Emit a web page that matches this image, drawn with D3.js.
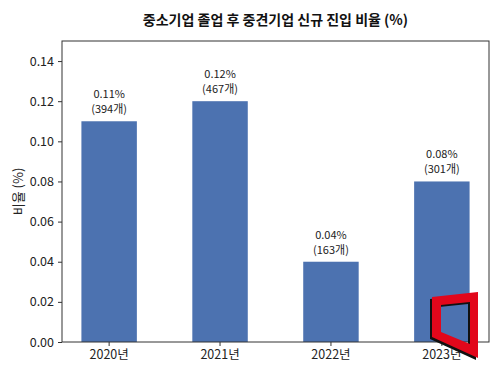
<!DOCTYPE html>
<html>
<head>
<meta charset="utf-8">
<script src="https://cdn.jsdelivr.net/npm/d3@7"></script>
<style>
  body { margin: 0; background: #fff; }
  text { font-family: "Noto Sans CJK KR", "Noto Sans", sans-serif; }
</style>
</head>
<body>
<svg id="chart" width="500" height="375"></svg>
<script>
// data
const years = ["2020년", "2021년", "2022년", "2023년"];
const rates = [0.11, 0.12, 0.04, 0.08];
const counts = [394, 467, 163, 301];
const yTicks = [0, 0.02, 0.04, 0.06, 0.08, 0.10, 0.12, 0.14];

var svg = d3.select("#chart"),
   margin = {top: 41, right: 11, bottom: 33, left: 62},
   width = +svg.attr("width") - margin.left - margin.right,
   height = +svg.attr("height") - margin.top - margin.bottom;

const g = svg.append("g").attr("transform", `translate(${margin.left},${margin.top})`);

// band scale mimicking matplotlib bar width 0.5 with 5% margins
const xScale = d3.scaleBand()
   .domain(years)
   .range([width * 0.175 / 3.85 - width * 0.25 / 3.85, width - width * 0.175 / 3.85 + width * 0.25 / 3.85])
   .paddingInner(0.5)
   .paddingOuter(0.25);

const yScale = d3.scaleLinear()
   .domain([0, 0.15])
   .range([height, 0]);

// bars
g.append("g")
   .selectAll("rect")
   .data(years)
   .join("rect")
   .attr("x", d => xScale(d))
   .attr("y", (d, i) => yScale(rates[i]))
   .attr("width", xScale.bandwidth())
   .attr("height", (d, i) => yScale(0) - yScale(rates[i]))
   .attr("fill", "#4C72B0");

// value labels, two lines each
const cx = d => xScale(d) + xScale.bandwidth() / 2;
g.append("g")
   .selectAll("text")
   .data(years)
   .join("text")
   .attr("x", cx)
   .attr("y", (d, i) => yScale(rates[i]) - 23)
   .attr("text-anchor", "middle")
   .attr("font-size", "11px")
   .attr("fill", "#222")
   .text((d, i) => rates[i].toFixed(2) + "%");
g.append("g")
   .selectAll("text")
   .data(years)
   .join("text")
   .attr("x", cx)
   .attr("y", (d, i) => yScale(rates[i]) - 8)
   .attr("text-anchor", "middle")
   .attr("font-size", "11px")
   .attr("fill", "#222")
   .text((d, i) => "(" + counts[i] + "개)");

// axes
const xAxis = g.append("g")
   .attr("transform", `translate(0,${height})`)
   .call(d3.axisBottom(xScale).tickSize(4).tickPadding(4));
xAxis.selectAll("text").attr("font-size", "12.5px").attr("fill", "#222")
   .attr("font-family", "\"Noto Sans CJK KR\", sans-serif");

const yAxis = g.append("g")
   .call(d3.axisLeft(yScale).tickValues(yTicks).tickFormat(d3.format(".2f")).tickSize(4).tickPadding(4));
yAxis.selectAll("text").attr("font-size", "12.5px").attr("fill", "#222")
   .attr("font-family", "\"Noto Sans CJK KR\", sans-serif");

[xAxis, yAxis].forEach(a => {
   a.select(".domain").remove();
   a.selectAll("line").attr("stroke", "#333");
});

// frame
g.append("rect")
   .attr("width", width)
   .attr("height", height)
   .attr("fill", "none")
   .attr("stroke", "#333")
   .attr("stroke-width", 1);

// y label
svg.append("text")
   .attr("transform", `translate(23,${margin.top + height / 2}) rotate(-90)`)
   .attr("text-anchor", "middle")
   .attr("font-size", "13px")
   .attr("fill", "#222")
   .text("비율 (%)");

// title
svg.append("text")
   .attr("x", margin.left + width / 2)
   .attr("y", 25)
   .attr("text-anchor", "middle")
   .attr("font-size", "14px")
   .attr("font-weight", "bold")
   .attr("fill", "#111")
   .text("중소기업 졸업 후 중견기업 신규 진입 비율 (%)");

// watermark logo
const logo = "M432,297 L478,292 L478,358 L432,337 Z M441,305 L470,302 L470,344 L441,332 Z";
svg.append("path").attr("d", logo).attr("fill", "#111").attr("fill-rule", "evenodd")
   .attr("transform", "translate(-2,2)");
svg.append("path").attr("d", logo).attr("fill", "#e2071b").attr("fill-rule", "evenodd");
</script>
</body>
</html>
